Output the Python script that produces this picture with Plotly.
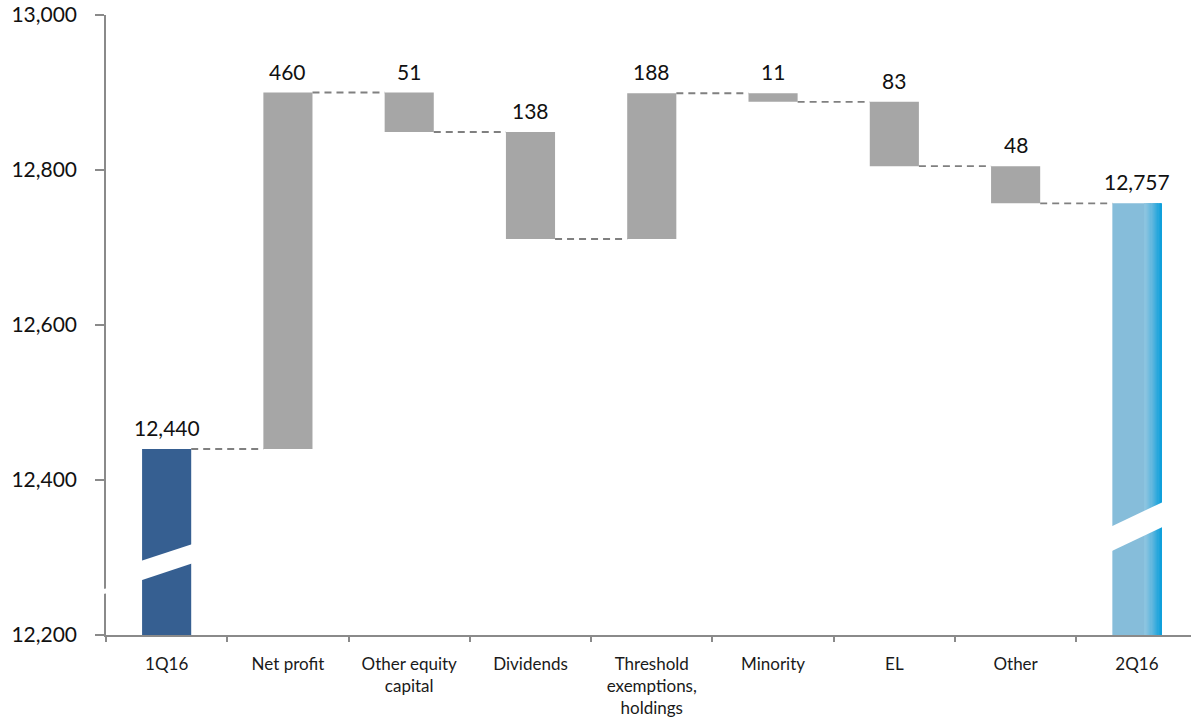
import plotly.graph_objects as go

# ---------------- data ----------------
categories = ["1Q16", "Net profit", "Other equity<br>capital", "Dividends",
              "Threshold<br>exemptions,<br>holdings", "Minority", "EL", "Other", "2Q16"]
start_value = 12440
changes = [460, -51, -138, 188, -11, -83, -48]
end_value = 12757
y_ticks = [12200, 12400, 12600, 12800, 13000]
axis_min, axis_max = 12200, 13000

# ---------------- derived ----------------
n = len(categories)
xs = list(range(n))
levels = [start_value]
for c in changes:
    levels.append(levels[-1] + c)
step_base = [min(levels[i], levels[i + 1]) for i in range(len(changes))]
step_height = [abs(c) for c in changes]

BAR_W = 0.405
GRAY = "#A6A6A6"
DARK = "#365F91"
LIGHT = "#86BDDA"
DEEP = "#0A9EDB"
AXIS_COL = "#8A8A8A"
FONT = "Lato"

fig = go.Figure()

fig.add_trace(go.Bar(x=[xs[0]], y=[start_value - axis_min], base=[axis_min],
                     width=BAR_W, marker=dict(color=DARK, line=dict(width=0)),
                     hoverinfo="skip"))
fig.add_trace(go.Bar(x=xs[1:n - 1], y=step_height, base=step_base,
                     width=BAR_W, marker=dict(color=GRAY, line=dict(width=0)),
                     hoverinfo="skip"))
fig.add_trace(go.Bar(x=[xs[-1]], y=[end_value - axis_min], base=[axis_min],
                     width=BAR_W, marker=dict(color=LIGHT, line=dict(width=0)),
                     hoverinfo="skip"))


def hex2rgb(h):
    h = h.lstrip("#")
    return tuple(int(h[i:i + 2], 16) for i in (0, 2, 4))


c0 = hex2rgb("#8DC4E0")
c1 = hex2rgb(DEEP)
n_strips = 14
g_start = 0.066
g_end = BAR_W / 2
sw = (g_end - g_start) / n_strips
for k in range(n_strips):
    t = ((k + 0.5) / n_strips) ** 1.3
    col = "rgb(%d,%d,%d)" % tuple(round(c0[j] + (c1[j] - c0[j]) * t) for j in range(3))
    w = sw * 1.6 if k < n_strips - 1 else sw
    fig.add_trace(go.Bar(x=[xs[-1]], y=[end_value - axis_min], base=[axis_min],
                         width=w, offset=g_start + k * sw,
                         marker=dict(color=col, line=dict(width=0)),
                         hoverinfo="skip"))

# connectors
for i in range(n - 1):
    lvl = levels[i] if i < len(levels) else end_value
    fig.add_trace(go.Scatter(x=[xs[i] + BAR_W / 2, xs[i + 1] - BAR_W / 2], y=[lvl, lvl],
                             mode="lines", line=dict(color="#808080", width=1.8, dash="7px,5px"),
                             hoverinfo="skip"))

# value labels
label_vals = [start_value] + [abs(c) for c in changes] + [end_value]
label_tops = [start_value] + [max(levels[i], levels[i + 1]) for i in range(len(changes))] + [end_value]
for x, v, top in zip(xs, label_vals, label_tops):
    fig.add_annotation(x=x, y=top, text=f"{v:,}", showarrow=False, yanchor="bottom",
                       yshift=7, font=dict(family=FONT, size=21, color="#111111"))


def slash(xc, yl0, yl1, yr0, yr1, ext=0.03):
    xl = xc - BAR_W / 2 - ext
    xr = xc + BAR_W / 2 + ext
    return dict(type="path", xref="x", yref="y", layer="above",
                path=f"M {xl},{yl0} L {xr},{yr0} L {xr},{yr1} L {xl},{yl1} Z",
                fillcolor="white", line=dict(width=0))


shapes = [
    slash(xs[0], 12269.5, 12294.5, 12293.5, 12318.5),
    slash(xs[-1], 12306.5, 12338.5, 12341, 12373),
    dict(type="path", xref="paper", yref="y", layer="above",
         path="M -0.008,12251.5 L 0.008,12255.5 L 0.008,12262 L -0.008,12258 Z",
         fillcolor="white", line=dict(width=0)),
]

fig.update_layout(
    width=1191, height=727,
    margin=dict(l=106, r=0, t=15, b=92),
    paper_bgcolor="white", plot_bgcolor="white",
    barmode="overlay", showlegend=False,
    shapes=shapes,
    font=dict(family=FONT, color="#111111"),
)
fig.update_xaxes(
    range=[-0.5, 8.446], tickvals=xs, ticktext=categories, ticks="",
    tickfont=dict(family=FONT, size=17, color="#1a1a1a"),
    showline=True, linecolor=AXIS_COL, linewidth=1.5, showgrid=False, zeroline=False,
    ticklabelstandoff=13,
    minor=dict(tickvals=[x - 0.5 for x in xs] + [n - 0.5], ticks="outside",
               ticklen=5, tickcolor=AXIS_COL, tickwidth=1.5, showgrid=False),
)
fig.update_yaxes(
    range=[axis_min, axis_max], tickvals=y_ticks, tickformat=",",
    ticks="outside", ticklen=9, tickcolor=AXIS_COL, tickwidth=1.5,
    tickfont=dict(family=FONT, size=21, color="#111111"),
    showline=True, linecolor=AXIS_COL, linewidth=1.5, showgrid=False, zeroline=False,
    ticklabelstandoff=14,
)

fig.write_html("out.html")
